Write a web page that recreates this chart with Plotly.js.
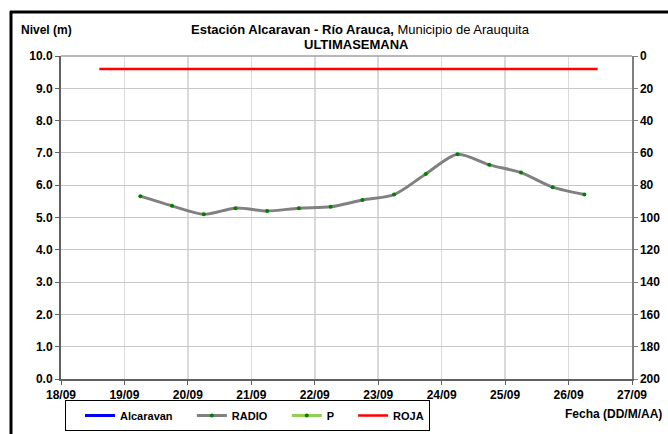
<!DOCTYPE html>
<html>
<head>
<meta charset="utf-8">
<script src="https://cdn.plot.ly/plotly-3.0.1.min.js"></script>
<style>
  html, body { margin: 0; padding: 0; background: #fff; }
  #chart { width: 668px; height: 434px; }
</style>
</head>
<body>
<div id="chart"></div>
<script>
// ---- data ----
const radioDates = [
  '2013-09-19 06:00', '2013-09-19 18:00', '2013-09-20 06:00', '2013-09-20 18:00',
  '2013-09-21 06:00', '2013-09-21 18:00', '2013-09-22 06:00', '2013-09-22 18:00',
  '2013-09-23 06:00', '2013-09-23 18:00', '2013-09-24 06:00', '2013-09-24 18:00',
  '2013-09-25 06:00', '2013-09-25 18:00', '2013-09-26 06:00'
];
const radioLevels = [5.66, 5.36, 5.10, 5.29, 5.20, 5.29, 5.33, 5.54, 5.71, 6.35, 6.96, 6.63, 6.39, 5.94, 5.71];
const rojaDates = ['2013-09-18 14:30', '2013-09-26 11:00'];
const rojaLevels = [9.6, 9.6];
const alcaravanDates = [null];
const alcaravanLevels = [null];
const pDates = [null];
const pValues = [null];
const xRange = ['2013-09-18', '2013-09-27'];
const seriesNames = ['Alcaravan', 'RADIO', 'P', 'ROJA'];

const FONT = 'Liberation Sans, Arial, sans-serif';

const traces = [
  { x: alcaravanDates, y: alcaravanLevels, name: seriesNames[0], type: 'scatter', mode: 'lines',
    line: { color: '#0000ff', width: 3 } },
  { x: radioDates, y: radioLevels, name: seriesNames[1], type: 'scatter', mode: 'lines+markers',
    line: { color: '#808080', width: 3, shape: 'spline', smoothing: 0.8 },
    marker: { color: '#008000', size: 4 } },
  { x: pDates, y: pValues, name: seriesNames[2], type: 'scatter', mode: 'lines+markers',
    line: { color: '#92d050', width: 3 }, marker: { color: '#008000', size: 4 } },
  { x: rojaDates, y: rojaLevels, name: seriesNames[3], type: 'scatter', mode: 'lines',
    line: { color: '#ff0000', width: 2.5 } },
  { x: [null], y: [null], yaxis: 'y2', showlegend: false, hoverinfo: 'skip', type: 'scatter', mode: 'lines' }
];

const W = 668, H = 434, L = 61, R = 36, T = 56, B = 55;
const pw = W - L - R, ph = H - T - B;
const px = v => (v - L) / pw;
const py = v => (H - B - v) / ph;

const layout = {
  width: W, height: H,
  margin: { l: L, r: R, t: T, b: B, pad: 0, autoexpand: false },
  paper_bgcolor: '#ffffff', plot_bgcolor: '#ffffff',
  font: { family: FONT, size: 12, color: '#000' },
  showlegend: true,
  xaxis: {
    type: 'date', range: xRange, dtick: 86400000, tick0: '2013-09-18',
    tickformat: '%d/%m', ticks: 'outside', ticklen: 4, tickcolor: '#606060',
    showgrid: true, gridcolor: '#d9d9d9', gridwidth: 1.5,
    showline: true, linecolor: '#606060', linewidth: 2, mirror: false,
    tickfont: { family: FONT, size: 12, color: '#000', weight: 'bold' },
    zeroline: false, fixedrange: true
  },
  yaxis: {
    range: [0, 10], dtick: 1, tickformat: '.1f', ticks: 'outside', ticklen: 4, tickcolor: '#606060',
    showgrid: true, gridcolor: '#c8c8c8', gridwidth: 1,
    showline: true, linecolor: '#606060', linewidth: 2,
    tickfont: { family: FONT, size: 12, color: '#000', weight: 'bold' },
    zeroline: false, fixedrange: true
  },
  yaxis2: {
    overlaying: 'y', side: 'right', range: [200, 0], dtick: 20,
    ticks: 'outside', ticklen: 4, tickcolor: '#808080',
    showgrid: false, showline: true, linecolor: '#808080', linewidth: 1.5,
    tickfont: { family: FONT, size: 12, color: '#000', weight: 'bold' },
    zeroline: false, fixedrange: true
  },
  legend: {
    orientation: 'h', xref: 'container', yref: 'container',
    x: 65 / W, y: 1 - 400 / H, xanchor: 'left', yanchor: 'top',
    bordercolor: '#000', borderwidth: 1, bgcolor: '#fff',
    font: { family: FONT, size: 11, color: '#000', weight: 'bold' },
    indentation: 14, itemwidth: 30,
    tracegroupgap: 0, itemclick: false
  },
  annotations: [
    { text: '<b>Nivel (m)</b>', xref: 'paper', yref: 'paper', x: px(19), y: py(30),
      xanchor: 'left', yanchor: 'middle', showarrow: false, font: { family: FONT, size: 12 } },
    { text: '<b>Estación Alcaravan - Río Arauca,</b> Municipio de Arauquita', xref: 'paper', yref: 'paper',
      x: px(360), y: py(30), xanchor: 'center', yanchor: 'middle', showarrow: false,
      font: { family: FONT, size: 13 } },
    { text: '<b>ULTIMASEMANA</b>', xref: 'paper', yref: 'paper', x: px(356), y: py(44),
      xanchor: 'center', yanchor: 'middle', showarrow: false, font: { family: FONT, size: 13 } },
    { text: '<b>Fecha (DD/M/AA)</b>', xref: 'paper', yref: 'paper', x: px(664), y: py(414),
      xanchor: 'right', yanchor: 'middle', showarrow: false, font: { family: FONT, size: 12 } }
  ],
  shapes: [
    { type: 'line', xref: 'paper', yref: 'paper', x0: px(11), x1: px(11), y0: py(440), y1: py(11),
      line: { color: '#000', width: 3 } },
    { type: 'line', xref: 'paper', yref: 'paper', x0: px(10), x1: px(680), y0: py(12), y1: py(12),
      line: { color: '#000', width: 3 } },
    { type: 'line', xref: 'paper', yref: 'paper', x0: 0, x1: 1, y0: 1, y1: 1,
      line: { color: '#a0a0a0', width: 1.5 } }
  ]
};

Plotly.newPlot('chart', traces, layout, { staticPlot: true, displayModeBar: false });
</script>
</body>
</html>
